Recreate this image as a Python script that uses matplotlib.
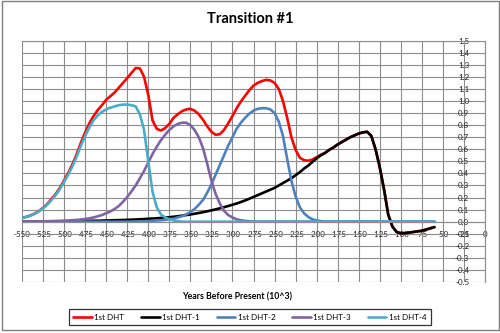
import matplotlib
matplotlib.use("Agg")
import matplotlib.pyplot as plt
from matplotlib.patches import Rectangle

plt.rcParams['font.family'] = ['Lato', 'DejaVu Sans']

years = list(range(-550, -55, 5))

dht = [0.03, 0.04, 0.051, 0.067, 0.087, 0.115, 0.146, 0.188, 0.229, 0.28,
       0.342, 0.404, 0.477, 0.56, 0.654, 0.738, 0.815, 0.875, 0.925, 0.965,
       1.01, 1.04, 1.07, 1.11, 1.15, 1.19, 1.232, 1.273, 1.27, 1.2,
       1.05, 0.84, 0.77, 0.755, 0.775, 0.81, 0.86, 0.89, 0.915, 0.93,
       0.935, 0.92, 0.89, 0.845, 0.79, 0.745, 0.72, 0.725, 0.76, 0.815,
       0.875, 0.94, 0.995, 1.043, 1.089, 1.127, 1.15, 1.165, 1.175, 1.17,
       1.15, 1.10, 1.0, 0.86, 0.70, 0.595, 0.53, 0.51, 0.505, 0.515,
       0.535, 0.555, 0.57, 0.595, 0.615, 0.64, 0.66, 0.68, 0.70, 0.715,
       0.73, 0.74, 0.745, 0.71, 0.60, 0.45, 0.27, 0.06, -0.04, -0.085,
       -0.096, -0.095, -0.09, -0.085, -0.08, -0.075, -0.065, -0.055, -0.045]

dht1 = [0, 0, 0.001, 0.001, 0.002, 0.002, 0.002, 0.003, 0.003, 0.003,
        0.004, 0.004, 0.005, 0.005, 0.006, 0.006, 0.007, 0.008, 0.008, 0.009,
        0.010, 0.011, 0.012, 0.013, 0.014, 0.015, 0.017, 0.018, 0.02, 0.022,
        0.024, 0.026, 0.028, 0.031, 0.034, 0.037, 0.041, 0.045, 0.05, 0.055,
        0.06, 0.066, 0.072, 0.079, 0.086, 0.094, 0.102, 0.111, 0.12, 0.13,
        0.14, 0.151, 0.163, 0.176, 0.19, 0.205, 0.22, 0.235, 0.25, 0.265,
        0.28, 0.30, 0.32, 0.34, 0.36, 0.385, 0.41, 0.44, 0.465, 0.495,
        0.525, 0.55, 0.57, 0.595, 0.615, 0.64, 0.66, 0.68, 0.70, 0.715,
        0.73, 0.74, 0.745, 0.71, 0.60, 0.45, 0.27, 0.06, -0.04, -0.085,
        -0.096, -0.095, -0.09, -0.085, -0.08, -0.075, -0.065, -0.055, -0.045]

dht2 = [0, 0, 0, 0, 0, 0, 0, 0, 0, 0,
        0, 0, 0, 0, 0, 0, 0, 0, 0, 0,
        0, 0, 0, 0, 0, 0, 0.001, 0.001, 0.002, 0.003,
        0.005, 0.007, 0.01, 0.012, 0.015, 0.02, 0.025, 0.035, 0.045, 0.06,
        0.08, 0.105, 0.14, 0.18, 0.24, 0.31, 0.39, 0.47, 0.55, 0.63,
        0.70, 0.77, 0.82, 0.86, 0.895, 0.92, 0.935, 0.94, 0.94, 0.93,
        0.90, 0.83, 0.71, 0.52, 0.34, 0.21, 0.12, 0.07, 0.04, 0.02,
        0.01, 0.005, 0, 0, 0, 0, 0, 0, 0, 0,
        0, 0, 0, 0, 0, 0, 0, 0, 0, 0,
        0, 0, 0, 0, 0, 0, 0, 0, 0]

dht3 = [0, 0, 0, 0.001, 0.002, 0.003, 0.004, 0.005, 0.006, 0.007,
        0.008, 0.01, 0.012, 0.015, 0.018, 0.022, 0.028, 0.035, 0.045, 0.055,
        0.07, 0.085, 0.105, 0.13, 0.165, 0.205, 0.25, 0.30, 0.36, 0.42,
        0.49, 0.56, 0.62, 0.675, 0.72, 0.76, 0.79, 0.81, 0.82, 0.82,
        0.80, 0.76, 0.70, 0.61, 0.48, 0.34, 0.23, 0.15, 0.09, 0.055,
        0.035, 0.02, 0.012, 0.007, 0.004, 0.002, 0, 0, 0, 0,
        0, 0, 0, 0, 0, 0, 0, 0, 0, 0,
        0, 0, 0, 0, 0, 0, 0, 0, 0, 0,
        0, 0, 0, 0, 0, 0, 0, 0, 0, 0,
        0, 0, 0, 0, 0, 0, 0, 0, 0]

dht4 = [0.03, 0.04, 0.05, 0.065, 0.085, 0.11, 0.14, 0.18, 0.22, 0.27,
        0.33, 0.39, 0.46, 0.54, 0.63, 0.71, 0.78, 0.84, 0.88, 0.91,
        0.93, 0.945, 0.955, 0.965, 0.97, 0.97, 0.965, 0.955, 0.89, 0.76,
        0.50, 0.25, 0.12, 0.06, 0.035, 0.02, 0.01, 0.005, 0, 0,
        0, 0, 0, 0, 0, 0, 0, 0, 0, 0,
        0, 0, 0, 0, 0, 0, 0, 0, 0, 0,
        0, 0, 0, 0, 0, 0, 0, 0, 0, 0,
        0, 0, 0, 0, 0, 0, 0, 0, 0, 0,
        0, 0, 0, 0, 0, 0, 0, 0, 0, 0,
        0, 0, 0, 0, 0, 0, 0, 0, 0]

series_names = ["1st DHT", "1st DHT-1", "1st DHT-2", "1st DHT-3", "1st DHT-4"]
series_values = [dht, dht1, dht2, dht3, dht4]
series_colors = ["#FF0000", "#000000", "#4F81BD", "#8064A2", "#4BACC6"]

x_ticks = list(range(-550, 25, 25))
y_ticks = [v / 10 for v in range(-5, 16)]

fig = plt.figure(figsize=(5.0, 3.33), dpi=100)
ax = fig.add_axes([0.044, 0.153, 0.926, 0.725])

for name, vals, col in zip(series_names, series_values, series_colors):
    ax.plot(years, vals, color=col, lw=1.9, label=name, solid_capstyle='round')

ax.set_xlim(-550, 0)
ax.set_ylim(-0.5, 1.5)
ax.set_xticks(x_ticks)
ax.set_xticklabels([str(v) for v in x_ticks])
ax.set_yticks(y_ticks)
ax.set_yticklabels([f"{v:.1f}" for v in y_ticks])

grid_col = "#8c8c8c"
ax.grid(True, color=grid_col, lw=0.8)
ax.set_axisbelow(True)

ax.spines['bottom'].set_position(('data', 0))
ax.spines['bottom'].set_color(grid_col)
ax.spines['bottom'].set_linewidth(0.8)
ax.spines['left'].set_position(('data', -18))
ax.spines['left'].set_visible(False)
for s in ['top', 'right']:
    ax.spines[s].set_color(grid_col)
    ax.spines[s].set_linewidth(0.8)

ax.tick_params(axis='x', length=0, pad=7, labelsize=5.8, labelcolor='#222222')
ax.tick_params(axis='y', length=0, pad=0.5, labelsize=5.8, labelcolor='#222222')

ax.set_xlabel("Years Before Present (10^3)", fontsize=6.3, fontweight='bold', va='center')
ax.xaxis.set_label_coords((237 - 22) / 463, -0.062)

fig.text(0.5, 1 - 19 / 333, "Transition #1", ha='center', va='center',
         fontsize=10.5, fontweight='bold')

leg = fig.legend(loc='center', bbox_to_anchor=(250 / 500, 1 - 317 / 333), ncol=5,
                 fontsize=5.8, frameon=True, fancybox=False, edgecolor='black',
                 handlelength=2.3, handletextpad=0.3, columnspacing=2.1,
                 borderpad=0.5)
leg.get_frame().set_linewidth(0.9)

fig.patches.append(Rectangle((0.003, 0.008), 0.994, 0.988, transform=fig.transFigure,
                             fill=False, edgecolor='#7f7f7f', lw=1.0))

fig.savefig("out.png", dpi=100)
